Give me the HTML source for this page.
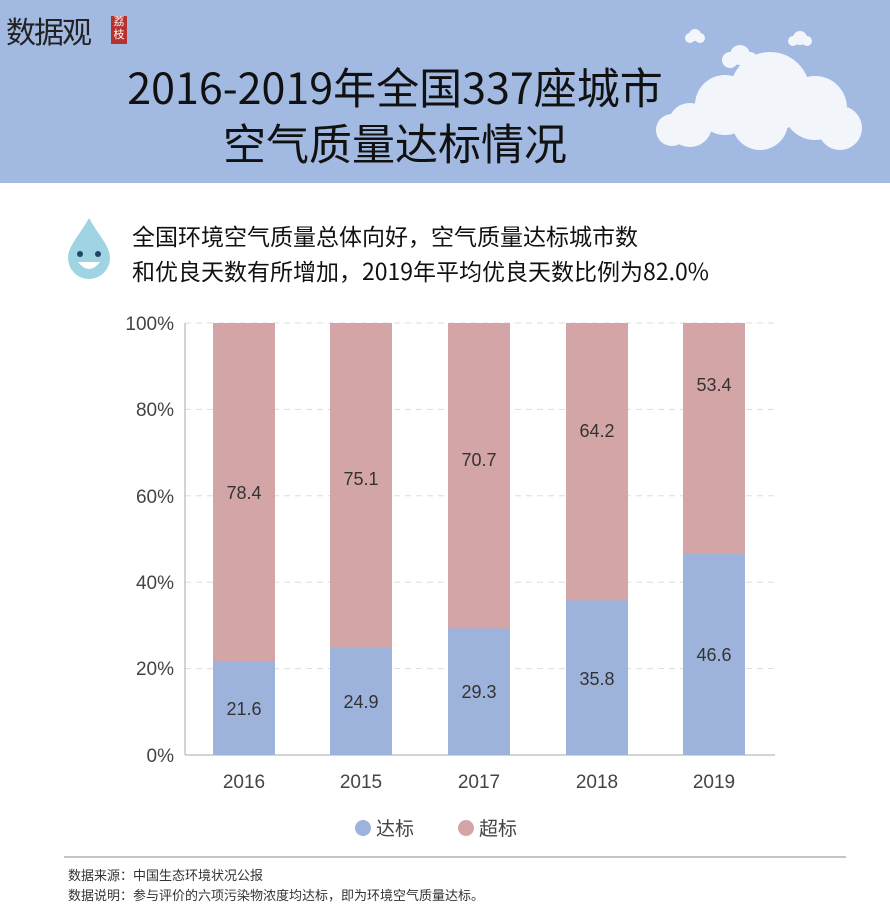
<!DOCTYPE html>
<html><head><meta charset="utf-8"><style>
body{margin:0;width:890px;height:906px;background:#fff;position:relative;overflow:hidden;font-family:"Liberation Sans","Noto Sans CJK SC",sans-serif}
.hdr{position:absolute;left:0;top:0;width:890px;height:183px;background:#a2b9e1}
.t{position:absolute;color:#111;}
</style></head><body>
<div class="hdr"></div>
<div class="t" style="left:6px;top:8px;font-size:30px;color:#222;letter-spacing:-2px">数据观</div>
<div style="position:absolute;left:111px;top:16px;width:16px;height:28px;background:#b7312f;color:#fff;font-size:11px;line-height:13px;text-align:center">荔<br>枝</div>
<div class="t" style="left:0;width:790px;text-align:center;top:58px;font-size:43px;line-height:56px;font-family:'Noto Sans CJK SC',sans-serif">2016-2019年全国337座城市<br>空气质量达标情况</div>
<svg style="position:absolute;left:0;top:0" width="890" height="183">
<g fill="#f2f6fb"><circle cx="690" cy="125" r="22"/><circle cx="725" cy="105" r="30"/><circle cx="770" cy="92" r="40"/><circle cx="815" cy="108" r="32"/><circle cx="760" cy="122" r="28"/><circle cx="672" cy="130" r="16"/><circle cx="840" cy="128" r="22"/>
<circle cx="740" cy="55" r="10"/><circle cx="730" cy="60" r="8"/><circle cx="750" cy="60" r="8"/>
<circle cx="695" cy="35" r="6"/><circle cx="690" cy="38" r="5"/><circle cx="700" cy="38" r="5"/>
<circle cx="800" cy="38" r="7"/><circle cx="793" cy="41" r="5"/><circle cx="807" cy="41" r="5"/></g>
</svg>
<svg style="position:absolute;left:64px;top:214px" width="50" height="66"><path d="M25 4 C15 22 4 32 4 44 A21 21 0 0 0 46 44 C46 32 35 22 25 4Z" fill="#9fd4e3"/><circle cx="16" cy="40" r="3" fill="#246"/><circle cx="34" cy="40" r="3" fill="#246"/><path d="M14 48 Q25 62 36 48Z" fill="#fff"/></svg>
<div class="t" style="left:132px;top:218px;font-size:23px;line-height:35px;font-family:'Noto Sans CJK SC',sans-serif">全国环境空气质量总体向好，空气质量达标城市数<br>和优良天数有所增加，2019年平均优良天数比例为82.0%</div>
<svg style="position:absolute;left:0;top:300px" width="890" height="560" font-family="Liberation Sans,Noto Sans CJK SC,sans-serif">
<g stroke="#ddd" stroke-dasharray="6,5"><line x1="185" x2="775" y1="23" y2="23"/><line x1="185" x2="775" y1="109.4" y2="109.4"/><line x1="185" x2="775" y1="195.8" y2="195.8"/><line x1="185" x2="775" y1="282.2" y2="282.2"/><line x1="185" x2="775" y1="368.6" y2="368.6"/></g>
<line x1="185" x2="185" y1="23" y2="455" stroke="#aaa"/><line x1="185" x2="775" y1="455" y2="455" stroke="#aaa"/>
<g font-size="19" fill="#444" text-anchor="end"><text x="174" y="30">100%</text><text x="174" y="116">80%</text><text x="174" y="203">60%</text><text x="174" y="289">40%</text><text x="174" y="375">20%</text><text x="174" y="462">0%</text></g>
<g fill="#d4a5a7"><rect x="213" y="23" width="62" height="432"/><rect x="330" y="23" width="62" height="432"/><rect x="448" y="23" width="62" height="432"/><rect x="566" y="23" width="62" height="432"/><rect x="683" y="23" width="62" height="432"/></g>
<g fill="#9db3dc"><rect x="213" y="361.7" width="62" height="93.3"/><rect x="330" y="347.4" width="62" height="107.6"/><rect x="448" y="328.4" width="62" height="126.6"/><rect x="566" y="300.3" width="62" height="154.7"/><rect x="683" y="253.7" width="62" height="201.3"/></g>
<g font-size="18" fill="#333" text-anchor="middle"><text x="244" y="199">78.4</text><text x="361" y="185">75.1</text><text x="479" y="166">70.7</text><text x="597" y="137">64.2</text><text x="714" y="91">53.4</text>
<text x="244" y="415">21.6</text><text x="361" y="408">24.9</text><text x="479" y="398">29.3</text><text x="597" y="385">35.8</text><text x="714" y="361">46.6</text></g>
<g font-size="19" fill="#444" text-anchor="middle"><text x="244" y="488">2016</text><text x="361" y="488">2015</text><text x="479" y="488">2017</text><text x="597" y="488">2018</text><text x="714" y="488">2019</text></g>
<circle cx="363" cy="528" r="8" fill="#9db3dc"/><text x="376" y="535" font-size="19" fill="#444">达标</text>
<circle cx="466" cy="528" r="8" fill="#d4a5a7"/><text x="479" y="535" font-size="19" fill="#444">超标</text>
<line x1="64" x2="846" y1="557" y2="557" stroke="#888"/>
</svg>
<div class="t" style="left:68px;top:866px;font-size:13px;line-height:20px;color:#333">数据来源：中国生态环境状况公报<br>数据说明：参与评价的六项污染物浓度均达标，即为环境空气质量达标。</div>
</body></html>
